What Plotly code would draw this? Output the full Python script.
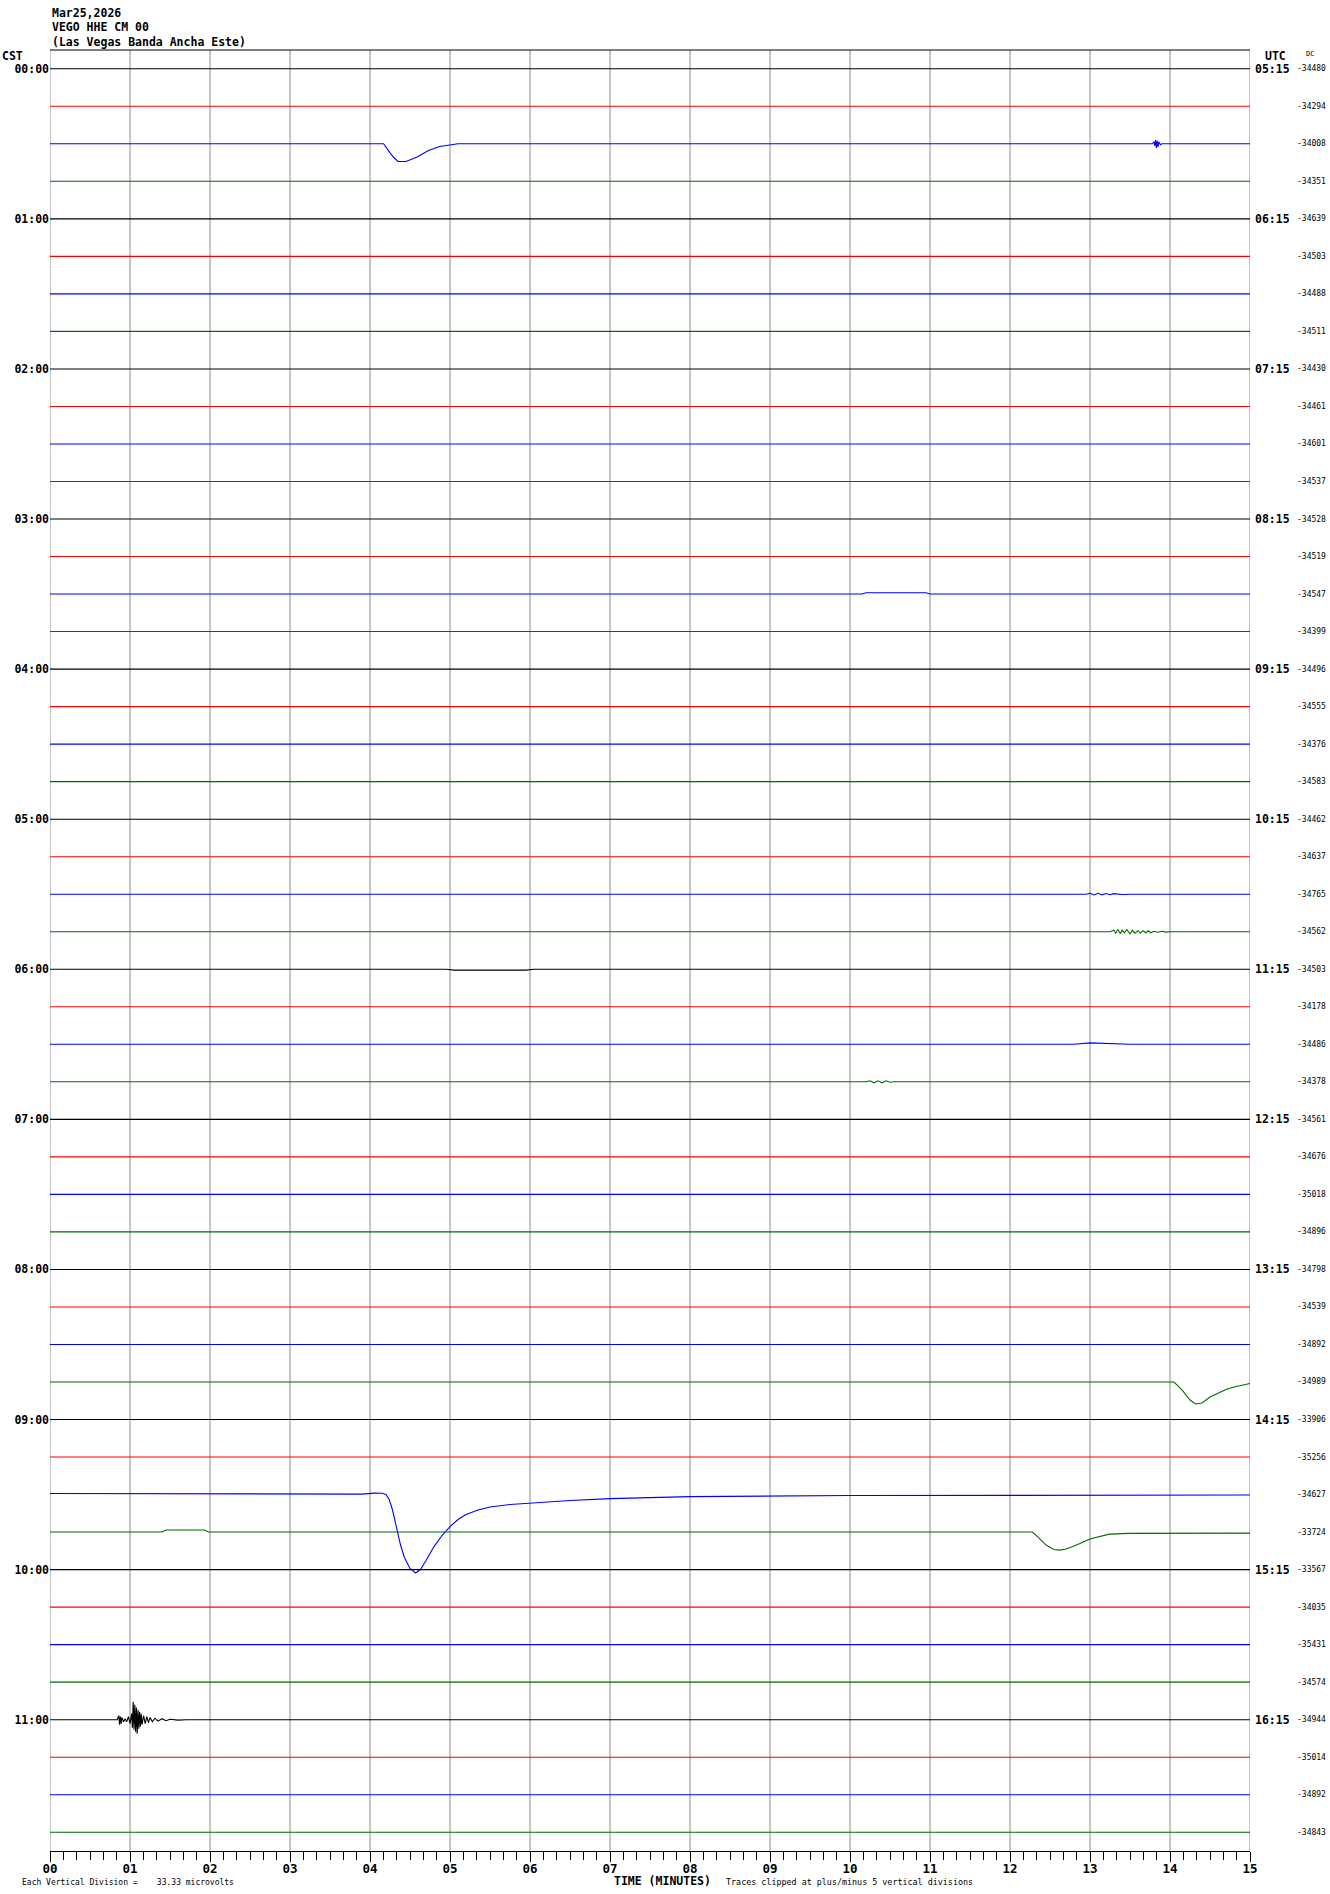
import plotly.graph_objects as go

# ---------------- data ----------------
DATE = "Mar25,2026"
STATION = "VEGO HHE CM 00"
SITE = "(Las Vegas Banda Ancha Este)"
UV_PER_DIV = 33.33          # each vertical division (trace spacing) in microvolts
N_ROWS = 48                 # 12 hours x 4 traces (15 min each)
MINUTES = list(range(16))
MINUTE_LABELS = ["%02d" % m for m in MINUTES]
CST_LABELS = ["00:00", "01:00", "02:00", "03:00", "04:00", "05:00",
              "06:00", "07:00", "08:00", "09:00", "10:00", "11:00"]
UTC_LABELS = ["05:15", "06:15", "07:15", "08:15", "09:15", "10:15",
              "11:15", "12:15", "13:15", "14:15", "15:15", "16:15"]
DC_VALUES = [-34480, -34294, -34008, -34351,
             -34639, -34503, -34488, -34511,
             -34430, -34461, -34601, -34537,
             -34528, -34519, -34547, -34399,
             -34496, -34555, -34376, -34583,
             -34462, -34637, -34765, -34562,
             -34503, -34178, -34486, -34378,
             -34561, -34676, -35018, -34896,
             -34798, -34539, -34892, -34989,
             -33906, -35256, -34627, -33724,
             -33567, -34035, -35431, -34574,
             -34944, -35014, -34892, -34843]
TRACE_COLORS = ["#000000", "#ff0000", "#0000ff", "#006b00"]

# trace signals (minutes, microvolts relative to trace baseline); rows not listed are flat
row02_t = [0, 4.17, 4.25, 4.30, 4.35, 4.45, 4.59, 4.73, 4.87, 5.0, 5.1,
           13.78, 13.80, 13.81, 13.82, 13.83, 13.84, 13.85, 13.86, 13.88, 13.90, 15]
row02_uv = [0, 0, -8.0, -12.4, -15.7, -15.7, -11.8, -5.9, -2.4, -0.9, 0,
            0, 1.8, -1.8, 3.6, -3.6, 2.7, -2.7, 1.8, -0.9, 0, 0]

row14_t = [0, 10.15, 10.2, 10.95, 11.0, 15]
row14_uv = [0, 0, 1.1, 1.1, 0, 0]

row22_t = [0, 12.95, 13.0, 13.05, 13.1, 13.15, 13.2, 13.25, 13.3, 13.4, 13.5, 15]
row22_uv = [0, 0, 0.8, -0.6, 0.8, -0.6, 0.6, -0.4, 0.5, -0.3, 0, 0]

row23_t = [0, 13.25, 13.3, 13.32, 13.35, 13.38, 13.4, 13.43, 13.46, 13.5, 13.53, 13.56,
           13.6, 13.63, 13.66, 13.7, 13.73, 13.76, 13.8, 13.85, 13.9, 13.95, 14.0, 15]
row23_uv = [0, 0, 1.3, -1.3, 1.8, -1.8, 1.3, -0.9, 1.8, -1.8, 1.3, -1.3,
            0.9, -1.3, 0.9, -0.9, 0.9, -0.9, 0.4, -0.4, 0.4, -0.3, 0, 0]

row24_t = [0, 4.95, 5.05, 5.95, 6.05, 15]
row24_uv = [0, 0, -0.8, -0.8, 0, 0]

row26_t = [0, 12.8, 13.0, 13.2, 13.5, 15]
row26_uv = [0, 0, 1.3, 0.9, 0, 0]

row27_t = [0, 10.2, 10.25, 10.3, 10.35, 10.4, 10.45, 10.5, 10.55, 15]
row27_uv = [0, 0, 0.9, -0.9, 0.9, -0.9, 0.9, -0.4, 0, 0]

row35_t = [0, 14.05, 14.15, 14.25, 14.32, 14.4, 14.5, 14.6, 14.7, 14.8, 14.9, 15.0]
row35_uv = [0, 0, -7.1, -16.0, -19.5, -18.6, -13.3, -9.8, -6.7, -4.4, -2.7, -1.3]

row38_t = [0, 1.0, 2.0, 3.0, 3.9, 4.05, 4.15, 4.2, 4.24, 4.28, 4.33, 4.38, 4.43, 4.5, 4.57,
           4.63, 4.7, 4.8, 4.9, 5.0, 5.1, 5.2, 5.35, 5.5, 5.75, 6.0, 6.5, 7.0, 8.0, 10.0, 15.0]
row38_uv = [0.9, 0.7, 0.4, 0.3, 0.4, 1.3, 1.1, 0, -4.4, -13.3, -29.3, -44.4, -55.9, -65.7,
            -69.7, -66.6, -58.6, -46.2, -36.4, -28.4, -22.2, -17.8, -13.8, -11.1, -8.9,
            -7.5, -5.3, -3.6, -1.8, -0.9, -0.4]

row39_t = [0, 1.40, 1.45, 1.93, 1.98, 12.28, 12.35, 12.45, 12.55, 12.62, 12.7, 12.81,
           13.0, 13.24, 13.48, 15]
row39_uv = [0, 0, 1.8, 1.8, 0, 0, -4.4, -11.5, -15.5, -16.0, -15.1, -12.2,
            -6.2, -1.8, -1.2, -0.9]

row44_t = [0, 0.84, 0.86, 0.87, 0.88, 0.89, 0.90, 0.92, 0.94, 0.96, 0.98, 1.00, 1.02, 1.03,
           1.04, 1.05, 1.06, 1.07, 1.08, 1.09, 1.10, 1.11, 1.12, 1.13, 1.14, 1.15, 1.17,
           1.19, 1.21, 1.23, 1.25, 1.28, 1.31, 1.35, 1.4, 1.45, 1.5, 1.6, 1.7, 15]
row44_uv = [0, 0, 3.6, -4.4, 2.7, -3.6, 1.8, -1.8, 0.9, -1.8, 2.7, -3.6, 5.3, -7.1,
            16.0, -8.9, 13.3, -10.7, 10.7, -12.4, 8.9, -8.0, 7.1, -6.2, 5.3, -4.4, 3.6,
            -3.6, 2.7, -2.7, 1.8, -1.8, 1.3, -1.3, 0.9, -0.9, 0.4, -0.4, 0, 0]

SIGNALS = {
    2: (row02_t, row02_uv), 14: (row14_t, row14_uv), 22: (row22_t, row22_uv),
    23: (row23_t, row23_uv), 24: (row24_t, row24_uv), 26: (row26_t, row26_uv),
    27: (row27_t, row27_uv), 35: (row35_t, row35_uv), 38: (row38_t, row38_uv),
    39: (row39_t, row39_uv), 44: (row44_t, row44_uv),
}
FLAT_T = [0, 15]
FLAT_UV = [0, 0]

# ---------------- geometry helpers ----------------
W, H = 1330, 1894
ML, MR, MT, MB = 50, 80, 50, 43
PW = W - ML - MR
PH = H - MT - MB


def px_x(px):
    return (px - ML) / PW


def px_y(py):
    return (H - MB - py) / PH


MONO = "DejaVu Sans Mono"

fig = go.Figure()

for r in range(N_ROWS):
    t, uv = SIGNALS.get(r, (FLAT_T, FLAT_UV))
    fig.add_trace(go.Scatter(
        x=t, y=[-r + v / UV_PER_DIV for v in uv], mode="lines",
        line=dict(color=TRACE_COLORS[r % 4], width=1.1),
        showlegend=False, hoverinfo="skip"))

shapes = []
for m in MINUTES:
    shapes.append(dict(type="line", xref="x", yref="paper", x0=m, x1=m, y0=0, y1=1,
                       line=dict(color="#8c8c8c", width=1), layer="below"))
shapes.append(dict(type="line", xref="paper", yref="paper", x0=0, x1=1, y0=1, y1=1,
                   line=dict(color="black", width=1.2)))

ann = []


def add_text(text, x, y, size, bold=False, xanchor="left", yanchor="middle",
             xref="paper", yref="paper"):
    ann.append(dict(text=text, x=x, y=y, xref=xref, yref=yref, showarrow=False,
                    xanchor=xanchor, yanchor=yanchor,
                    font=dict(family=MONO, size=size, color="black",
                              weight="bold" if bold else "normal")))


add_text(DATE, px_x(50), px_y(12.5), 11.5, True)
add_text(STATION, px_x(50), px_y(26.5), 11.5, True)
add_text(SITE, px_x(50), px_y(41.5), 11.5, True)
add_text("CST", px_x(0), px_y(56), 11.5, True)
add_text("UTC", px_x(1275), px_y(56), 11.5, True, xanchor="center")
add_text("DC", px_x(1310), px_y(54), 7, False, xanchor="center")

for i, lab in enumerate(UTC_LABELS):
    add_text(lab, px_x(1253), -4 * i, 11.5, True, yref="y")
for r, dc in enumerate(DC_VALUES):
    add_text(str(dc), px_x(1295), -r, 8, False, yref="y")

add_text("Each Vertical Division =\u00a0\u00a0\u00a0\u00a0%.2f microvolts" % UV_PER_DIV,
         px_x(20), px_y(1882), 8)
add_text("TIME (MINUTES)", px_x(662), px_y(1881), 11.5, True, xanchor="center")
add_text("Traces clipped at plus/minus 5 vertical divisions", px_x(724), px_y(1882), 8.4)

fig.update_layout(
    width=W, height=H,
    margin=dict(l=ML, r=MR, t=MT, b=MB, pad=0, autoexpand=False),
    paper_bgcolor="white", plot_bgcolor="white",
    shapes=shapes, annotations=ann, showlegend=False,
    xaxis=dict(range=[0, 15], tickvals=MINUTES, ticktext=MINUTE_LABELS,
               ticks="outside", ticklen=10, tickwidth=1, tickcolor="black",
               showline=True, linecolor="black", linewidth=1,
               showgrid=False, zeroline=False, fixedrange=True, automargin=False,
               ticklabelstandoff=-4,
               tickfont=dict(family=MONO, size=12.5, color="black", weight="bold"),
               minor=dict(dtick=1 / 6, tick0=0, ticks="outside", ticklen=8,
                          tickwidth=1, tickcolor="black", showgrid=False)),
    yaxis=dict(range=[-(N_ROWS - 0.5), 0.5],
               tickvals=[-4 * i for i in range(len(CST_LABELS))], ticktext=CST_LABELS,
               ticks="", showline=False, showgrid=False, zeroline=False, fixedrange=True,
               automargin=False,
               tickfont=dict(family=MONO, size=11.5, color="black", weight="bold")),
)

fig.write_html("out.html",
               config={"displayModeBar": False},
               post_script="document.body.style.margin='0';document.body.style.padding='0';")
